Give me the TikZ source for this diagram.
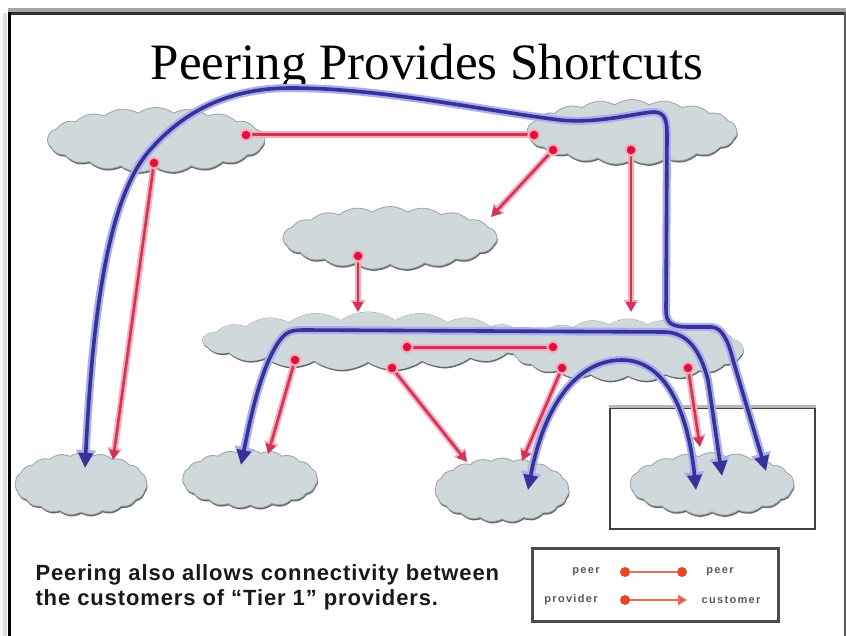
\documentclass[tikz,border=0pt]{standalone}
\usepackage{fontspec}
\setmainfont{Liberation Serif}
\newfontfamily\bodyf[LetterSpace=4]{Liberation Sans}
\newfontfamily\legf[LetterSpace=12]{Liberation Sans}
\usetikzlibrary{shapes.symbols,arrows.meta,shadows}
\definecolor{cloudc}{RGB}{207,216,218}
\definecolor{cloudb}{RGB}{100,106,106}
\definecolor{redc}{RGB}{210,52,84}
\definecolor{pinkc}{RGB}{248,172,192}
\definecolor{dotc}{RGB}{224,16,60}
\definecolor{bluec}{RGB}{52,52,150}
\definecolor{bhalo}{RGB}{172,172,240}
\definecolor{legc}{RGB}{232,72,32}
\definecolor{legl}{RGB}{226,112,84}
\begin{document}
\begin{tikzpicture}[x=1pt,y=-1pt,
  cloudbase/.style={cloud, cloud puffs=19, cloud puff arc=70, cloud ignores aspect,
    fill=cloudc, inner sep=0pt},
  cloudn/.style={cloudbase, draw=cloudc!75!black, line width=0.8pt,
    drop shadow={shadow xshift=0.6pt, shadow yshift=-1.8pt, fill=cloudb, opacity=1}},
  cloudfill/.style={cloudbase, draw=none},
  bluepath/.style={draw=bluec, line width=3.6pt, line cap=round, line join=round,
    {Triangle[length=15pt,width=14pt]}-{Triangle[length=15pt,width=14pt]},
    preaction={draw=bhalo, line width=8pt,
      {Triangle[length=18pt,width=19pt]}-{Triangle[length=18pt,width=19pt]}}},
  provarrow/.style={draw=redc, line width=2.6pt, -{Triangle[length=10pt,width=10pt]},
    preaction={draw=pinkc, line width=6.5pt, -{Triangle[length=12pt,width=14pt]}}},
  peerline/.style={draw=redc, line width=3pt, preaction={draw=pinkc, line width=7pt}},
  reddot/.style={circle, fill=dotc, draw=pinkc, line width=2pt, minimum size=11pt, inner sep=0pt},
  legdot/.style={circle, fill=legc, minimum size=10pt, inner sep=0pt},
  legline/.style={draw=legl, line width=2pt},
  legtext/.style={font=\legf\bfseries\fontsize{11}{12}\selectfont, text=black!65},
  bodytext/.style={anchor=base west, font=\bodyf\bfseries\fontsize{22}{25}\selectfont, text=black!90},
]
\useasboundingbox (0,0) rectangle (846,636);
\fill[white] (0,0) rectangle (846,636);
% frame
\draw[line width=4pt, gray!70] (8,10) -- (846,10);
\draw[line width=3pt, black!80] (8,13.5) -- (846,13.5);
\fill[gray!25] (3,13) rectangle (7,636);
\draw[line width=3pt, black] (9,12) -- (9,636);
\draw[line width=2.5pt, gray!70!black] (844.75,12) -- (844.75,636);

% title
\node[anchor=base, font=\fontsize{51}{51}\selectfont] (title) at (427,80) {Peering Provides Shortcuts};

% clouds
\node[cloudn, minimum width=217pt, minimum height=65pt] (A) at (156,140) {};
\node[cloudn, minimum width=210pt, minimum height=65pt] (B) at (632,132) {};
\node[cloudn, minimum width=214pt, minimum height=63pt] (C) at (390,238) {};
\node[cloudn, minimum width=330pt, minimum height=58pt] (D) at (368,341) {};
\node[cloudn, minimum width=230pt, minimum height=62pt] (E) at (628,350) {};
\node[cloudfill, minimum width=330pt, minimum height=58pt] (D2) at (368,341) {};
\node[cloudfill, minimum width=230pt, minimum height=62pt] (E2) at (628,350) {};
\node[cloudn, minimum width=132pt, minimum height=62pt] (F) at (81,484) {};
\node[cloudn, minimum width=135pt, minimum height=58pt] (G) at (250,479) {};
\node[cloudn, minimum width=134pt, minimum height=64pt] (H) at (502,490) {};
\node[cloudn, minimum width=164pt, minimum height=63pt] (I) at (712,484) {};

% box around the customer cloud
\node[draw=black!75, line width=2.5pt, minimum width=205pt, minimum height=121pt, inner sep=0pt] (ibox) at (712.5,468.5) {};
\draw[line width=3pt, gray!55] (ibox.north west) -- (ibox.north east);

% coordinates
\coordinate (ab) at (246,135);
\coordinate (af) at (154,163);
\coordinate (ba) at (534,135);
\coordinate (bc) at (553,150);
\coordinate (be) at (631,150);
\coordinate (cd) at (358,256);
\coordinate (de) at (407,347);
\coordinate (dg) at (295,360);
\coordinate (dh) at (392,368);
\coordinate (ed) at (553,347);
\coordinate (eh) at (562,368);
\coordinate (ei) at (688,368);
\coordinate (cin) at (491,217);
\coordinate (din) at (358,312);
\coordinate (ein) at (631,312);
\coordinate (fin) at (113,460);
\coordinate (gin) at (268,454);
\coordinate (hin1) at (467,462);
\coordinate (hin2) at (522,461);
\coordinate (iin) at (700,447);
\coordinate (f1) at (85,468);
\coordinate (g1) at (241,465);
\coordinate (h1) at (528,490);
\coordinate (i1) at (696,490);
\coordinate (i2) at (722,476);
\coordinate (i3) at (766,471);

% blue paths
\draw[bluepath] (f1) .. controls (92,330) and (105,200) .. (150,150)
  .. controls (185,110) and (230,88) .. (291,88)
  .. controls (380,88) and (480,110) .. (560,120)
  .. controls (600,124) and (640,112) .. (655,112)
  .. controls (665,113) and (667,120) .. (667,135)
  -- (666,310) .. controls (666,324) and (672,327) .. (690,327)
  -- (712,327) .. controls (722,328) and (728,340) .. (733,360) -- (i3);
\draw[bluepath] (g1) .. controls (252,410) and (262,365) .. (280,340)
  .. controls (287,331) and (292,330) .. (305,330)
  -- (665,332) .. controls (688,333) and (700,350) .. (708,380) -- (i2);
\draw[bluepath] (h1) .. controls (545,400) and (580,360) .. (622,360)
  .. controls (665,360) and (688,410) .. (i1);

% red connectors
\draw[peerline] (ab) -- (ba);
\draw[peerline] (de) -- (ed);
\draw[provarrow] (bc) -- (cin);
\draw[provarrow] (be) -- (ein);
\draw[provarrow] (cd) -- (din);
\draw[provarrow] (af) -- (fin);
\draw[provarrow] (dg) -- (gin);
\draw[provarrow] (dh) -- (hin1);
\draw[provarrow] (eh) -- (hin2);
\draw[provarrow] (ei) -- (iin);
\foreach \p in {ab,af,ba,bc,be,cd,de,dg,dh,ed,eh,ei}
  \node[reddot] (dot-\p) at (\p) {};

% legend
\node[draw=gray!60!black, line width=2.5pt, fill=white, minimum width=246pt, minimum height=73pt, inner sep=0pt] (legend) at (655.5,585) {};
\node[legtext] (lp1) at (586,572) {peer};
\node[legtext] (lp2) at (720,572) {peer};
\node[legtext] (lpr) at (571,600) {provider};
\node[legtext] (lcu) at (731,600) {customer};
\node[legdot] (l1) at (625,572) {};
\node[legdot] (l2) at (682,572) {};
\node[legdot] (l3) at (625,600) {};
\coordinate (l4) at (687,600);
\draw[legline] (l1) -- (l2);
\draw[legline, -{Triangle[length=9pt,width=10pt,fill=legc]}] (l3) -- (l4);

% caption
\node[bodytext] (txt1) at (32,580) {Peering also allows connectivity between};
\node[bodytext] (txt2) at (32,605) {the customers of “Tier 1” providers.};
\end{tikzpicture}
\end{document}
